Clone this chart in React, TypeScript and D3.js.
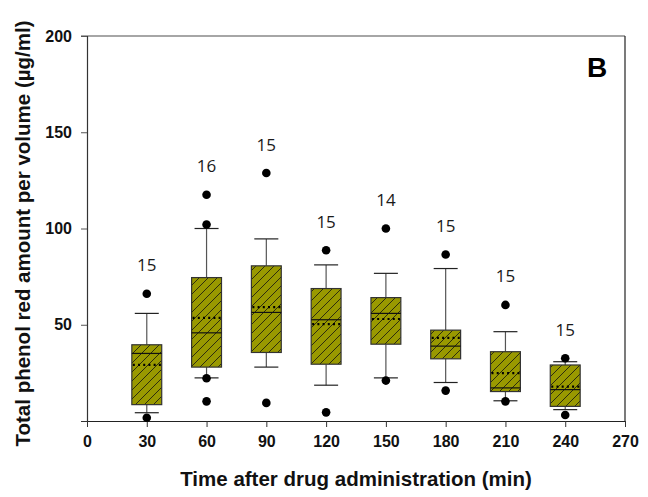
import { useEffect, useRef } from 'react'
import * as d3 from 'd3'

const times = [30, 60, 90, 120, 150, 180, 210, 240]
const whiskerLow = [4.3, 22.4, 28.0, 18.6, 22.4, 20.0, 10.5, 5.9]
const q1 = [8.5, 28.0, 35.6, 29.5, 39.9, 32.3, 15.3, 7.6]
const median = [35.1, 45.8, 56.4, 52.6, 55.9, 38.9, 17.2, 16.3]
const mean = [29.2, 53.6, 59.2, 50.3, 53.0, 43.2, 24.9, 17.9]
const q3 = [39.6, 74.5, 80.6, 68.8, 64.1, 47.2, 36.0, 29.1]
const whiskerHigh = [55.9, 100, 94.6, 81.1, 76.7, 79.2, 46.4, 30.8]
const outliers = [
  [66.1, 1.7],
  [117.5, 102.1, 22.2, 10.2],
  [128.8, 9.4],
  [88.7, 4.5],
  [100, 21.0],
  [86.5, 15.8],
  [60.3, 10.2],
  [32.6, 3.1],
]
const counts = [15, 16, 15, 15, 14, 15, 15, 15]
const xTicks = [0, 30, 60, 90, 120, 150, 180, 210, 240, 270]
const yTicks = [50, 100, 150, 200]

const W = 648
const H = 497
const PLOT = { left: 87, right: 625, top: 36, bottom: 421 }
const BOX_HALF = 7.5 // minutes
const CAP_HALF = 12 // px
const FILL = '#999900'
const AXIS_FONT = '"Liberation Sans", Arial, sans-serif'

export default function App() {
  const svgRef = useRef<SVGSVGElement>(null)

  useEffect(() => {
    const svg = d3.select(svgRef.current)
    svg.selectAll('*').remove()

    const x = d3.scaleLinear().domain([0, 270]).range([PLOT.left, PLOT.right])
    const y = d3.scaleLinear().domain([0, 200]).range([PLOT.bottom, PLOT.top])

    // hatch pattern
    const defs = svg.append('defs')
    const pat = defs.append('pattern')
      .attr('id', 'hatch')
      .attr('patternUnits', 'userSpaceOnUse')
      .attr('width', 9)
      .attr('height', 9)
    pat.append('rect').attr('width', 9).attr('height', 9).attr('fill', FILL)
    pat.append('path')
      .attr('d', 'M-1,1 l2,-2 M0,9 l9,-9 M8,10 l2,-2')
      .attr('stroke', '#111')
      .attr('stroke-width', 0.8)

    // frame
    svg.append('line')
      .attr('x1', PLOT.left - 6).attr('x2', PLOT.right)
      .attr('y1', PLOT.top).attr('y2', PLOT.top)
      .attr('stroke', '#888').attr('stroke-width', 1.3)
    svg.append('line')
      .attr('x1', PLOT.right).attr('x2', PLOT.right)
      .attr('y1', PLOT.top).attr('y2', PLOT.bottom)
      .attr('stroke', '#222').attr('stroke-width', 1.2)

    // y axis
    svg.append('g')
      .attr('transform', `translate(${PLOT.left},0)`)
      .call(d3.axisLeft(y).tickValues(yTicks).tickSize(6).tickPadding(9))
      .call(s => s.select('.domain').attr('stroke', '#333').attr('stroke-width', 1.2))
      .call(s => s.selectAll('line').attr('stroke', '#555'))
      .call(s => s.selectAll('text')
        .attr('fill', '#111')
        .style('font-family', AXIS_FONT)
        .style('font-weight', 'bold')
        .style('font-size', '16px'))

    // x axis
    svg.append('g')
      .attr('transform', `translate(0,${PLOT.bottom})`)
      .call(d3.axisBottom(x).tickValues(xTicks).tickSize(6).tickPadding(9).tickSizeOuter(0))
      .call(s => s.select('.domain').attr('stroke', '#222').attr('stroke-width', 1.2))
      .call(s => s.selectAll('line').attr('stroke', '#333'))
      .call(s => s.selectAll('text')
        .attr('fill', '#111')
        .style('font-family', AXIS_FONT)
        .style('font-weight', 'bold')
        .style('font-size', '16px'))

    // boxes
    times.forEach((t, i) => {
      const cx = x(t)
      const x0 = x(t - BOX_HALF)
      const x1 = x(t + BOX_HALF)
      const g = svg.append('g')

      // whiskers
      g.append('line')
        .attr('x1', cx).attr('x2', cx)
        .attr('y1', y(whiskerHigh[i])).attr('y2', y(q3[i]))
        .attr('stroke', '#555').attr('stroke-width', 1.2)
      g.append('line')
        .attr('x1', cx).attr('x2', cx)
        .attr('y1', y(q1[i])).attr('y2', y(whiskerLow[i]))
        .attr('stroke', '#555').attr('stroke-width', 1.2)
      ;[whiskerHigh[i], whiskerLow[i]].forEach(v => {
        g.append('line')
          .attr('x1', cx - CAP_HALF).attr('x2', cx + CAP_HALF)
          .attr('y1', y(v)).attr('y2', y(v))
          .attr('stroke', '#222').attr('stroke-width', 1.2)
      })

      // box
      g.append('rect')
        .attr('x', x0).attr('y', y(q3[i]))
        .attr('width', x1 - x0).attr('height', y(q1[i]) - y(q3[i]))
        .attr('fill', 'url(#hatch)')
        .attr('stroke', '#333').attr('stroke-width', 1.2)

      // median
      g.append('line')
        .attr('x1', x0).attr('x2', x1)
        .attr('y1', y(median[i])).attr('y2', y(median[i]))
        .attr('stroke', '#111').attr('stroke-width', 1.2)

      // mean (dotted)
      g.append('line')
        .attr('x1', x0 + 1).attr('x2', x1)
        .attr('y1', y(mean[i])).attr('y2', y(mean[i]))
        .attr('stroke', '#000').attr('stroke-width', 2.2)
        .attr('stroke-dasharray', '2,3.2')

      // outliers
      outliers[i].forEach(v => {
        g.append('circle')
          .attr('cx', cx).attr('cy', y(v)).attr('r', 4.3)
          .attr('fill', '#000')
      })

      // n label
      const top = d3.max([whiskerHigh[i], ...outliers[i]]) as number
      g.append('text')
        .attr('x', cx)
        .attr('y', y(top) - 29)
        .attr('text-anchor', 'middle')
        .attr('dominant-baseline', 'central')
        .attr('fill', '#1a1a1a')
        .style('font-family', '"Open Sans", sans-serif')
        .style('font-size', '17px')
        .text(counts[i])
    })

    // panel letter
    svg.append('text')
      .attr('x', PLOT.right - 28)
      .attr('y', PLOT.top + 41)
      .attr('text-anchor', 'middle')
      .attr('fill', '#000')
      .style('font-family', AXIS_FONT)
      .style('font-weight', 'bold')
      .style('font-size', '28px')
      .text('B')

    // axis titles
    svg.append('text')
      .attr('x', (PLOT.left + PLOT.right) / 2)
      .attr('y', 478)
      .attr('text-anchor', 'middle')
      .attr('dominant-baseline', 'central')
      .attr('fill', '#111')
      .style('font-family', AXIS_FONT)
      .style('font-weight', 'bold')
      .style('font-size', '20.5px')
      .text('Time after drug administration (min)')

    svg.append('text')
      .attr('transform', `translate(22,${(PLOT.top + PLOT.bottom) / 2 + 5}) rotate(-90)`)
      .attr('text-anchor', 'middle')
      .attr('dominant-baseline', 'central')
      .attr('fill', '#111')
      .style('font-family', AXIS_FONT)
      .style('font-weight', 'bold')
      .style('font-size', '20.5px')
      .text('Total phenol red amount per volume (µg/ml)')
  }, [])

  return (
    <svg
      ref={svgRef}
      width={W}
      height={H}
      style={{ position: 'absolute', left: 0, top: 0, background: '#fff' }}
    />
  )
}
